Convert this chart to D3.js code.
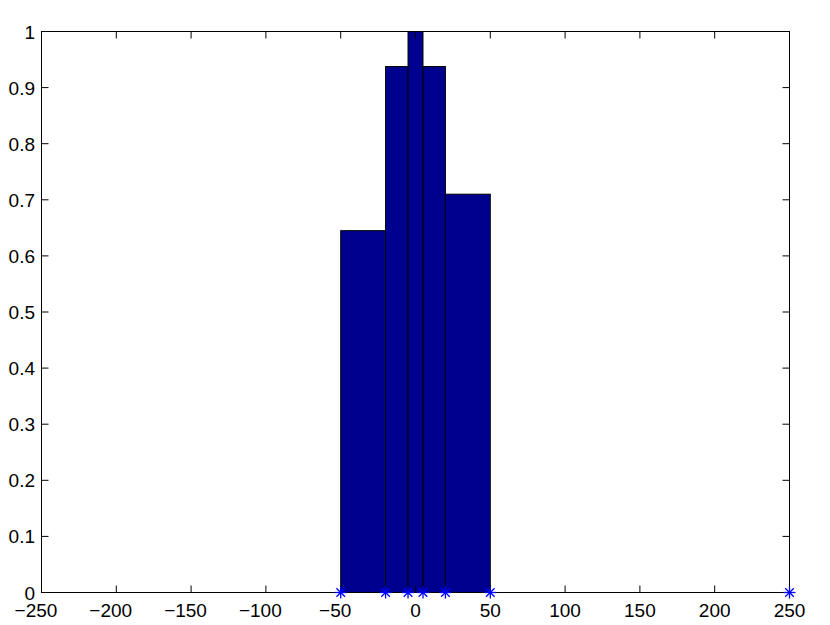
<!DOCTYPE html>
<html><head><meta charset="utf-8">
<script src="https://cdn.jsdelivr.net/npm/d3@7"></script>
<style>body{margin:0;background:#fff}svg{display:block}</style>
</head><body>
<script>
const binEdges = [-50, -20, -5, 5, 20, 50];
const binHeights = [0.645, 0.9375, 1, 0.9375, 0.71];
const markerX = [-50, -20, -5, 5, 20, 50, 250];
const xTicks = [-250, -200, -150, -100, -50, 0, 50, 100, 150, 200, 250];
const yTicks = [0, 0.1, 0.2, 0.3, 0.4, 0.5, 0.6, 0.7, 0.8, 0.9, 1];

const W = 830, H = 625;
const L = 41.5, R = 789.5, T = 31.5, B = 592.5;
const svg = d3.select("body").append("svg").attr("width", W).attr("height", H);
const x = d3.scaleLinear().domain([-250, 250]).range([L, R]);
const y = d3.scaleLinear().domain([0, 1]).range([B, T]);
const font = "'Liberation Sans', Arial, Helvetica, sans-serif";
const fs = 19;

const bins = binHeights.map((h, i) => ({x0: binEdges[i], x1: binEdges[i + 1], h}));
svg.append("g").selectAll("rect").data(bins).join("rect")
  .attr("x", d => x(d.x0)).attr("width", d => x(d.x1) - x(d.x0))
  .attr("y", d => y(d.h)).attr("height", d => y(0) - y(d.h))
  .attr("fill", "#00008f").attr("stroke", "#000").attr("stroke-width", 1);

// frame
svg.append("rect").attr("x", L).attr("y", T).attr("width", R - L).attr("height", B - T)
  .attr("fill", "none").attr("stroke", "#000").attr("stroke-width", 1);

const tl = 7;
const gx = svg.append("g").attr("stroke", "#000").attr("stroke-width", 1);
xTicks.forEach(t => {
  gx.append("line").attr("x1", x(t)).attr("x2", x(t)).attr("y1", B).attr("y2", B - tl);
  gx.append("line").attr("x1", x(t)).attr("x2", x(t)).attr("y1", T).attr("y2", T + tl);
});
yTicks.forEach(t => {
  gx.append("line").attr("x1", L).attr("x2", L + tl).attr("y1", y(t)).attr("y2", y(t));
  gx.append("line").attr("x1", R).attr("x2", R - tl).attr("y1", y(t)).attr("y2", y(t));
});

// x tick labels: digits centred on tick, minus sign hangs to the left
const measure = svg.append("text").attr("font-family", font).attr("font-size", fs).attr("visibility", "hidden");
const xl = svg.append("g");
xTicks.forEach(t => {
  measure.text(String(Math.abs(t)));
  const dw = measure.node().getComputedTextLength();
  xl.append("text").attr("x", x(t) + dw / 2).attr("y", 617).attr("text-anchor", "end")
    .attr("font-family", font).attr("font-size", fs)
    .text((t < 0 ? "\u2212" : "") + Math.abs(t));
});
measure.remove();

svg.append("g").selectAll("text").data(yTicks).join("text")
  .attr("x", 35).attr("y", d => y(d) + 7).attr("text-anchor", "end")
  .attr("font-family", font).attr("font-size", fs).text(d => String(+d.toFixed(1)));

// star markers
const s = 6;
const mg = svg.append("g").attr("stroke", "#0000ff").attr("stroke-width", 1.3).attr("fill", "none");
markerX.forEach(m => {
  const cx = x(m), cy = y(0);
  mg.append("line").attr("x1", cx - s).attr("x2", cx + s).attr("y1", cy).attr("y2", cy);
  mg.append("line").attr("x1", cx).attr("x2", cx).attr("y1", cy - s).attr("y2", cy + s);
  mg.append("line").attr("x1", cx - s * 0.72).attr("x2", cx + s * 0.72).attr("y1", cy - s * 0.72).attr("y2", cy + s * 0.72);
  mg.append("line").attr("x1", cx - s * 0.72).attr("x2", cx + s * 0.72).attr("y1", cy + s * 0.72).attr("y2", cy - s * 0.72);
});
</script>
</body></html>
